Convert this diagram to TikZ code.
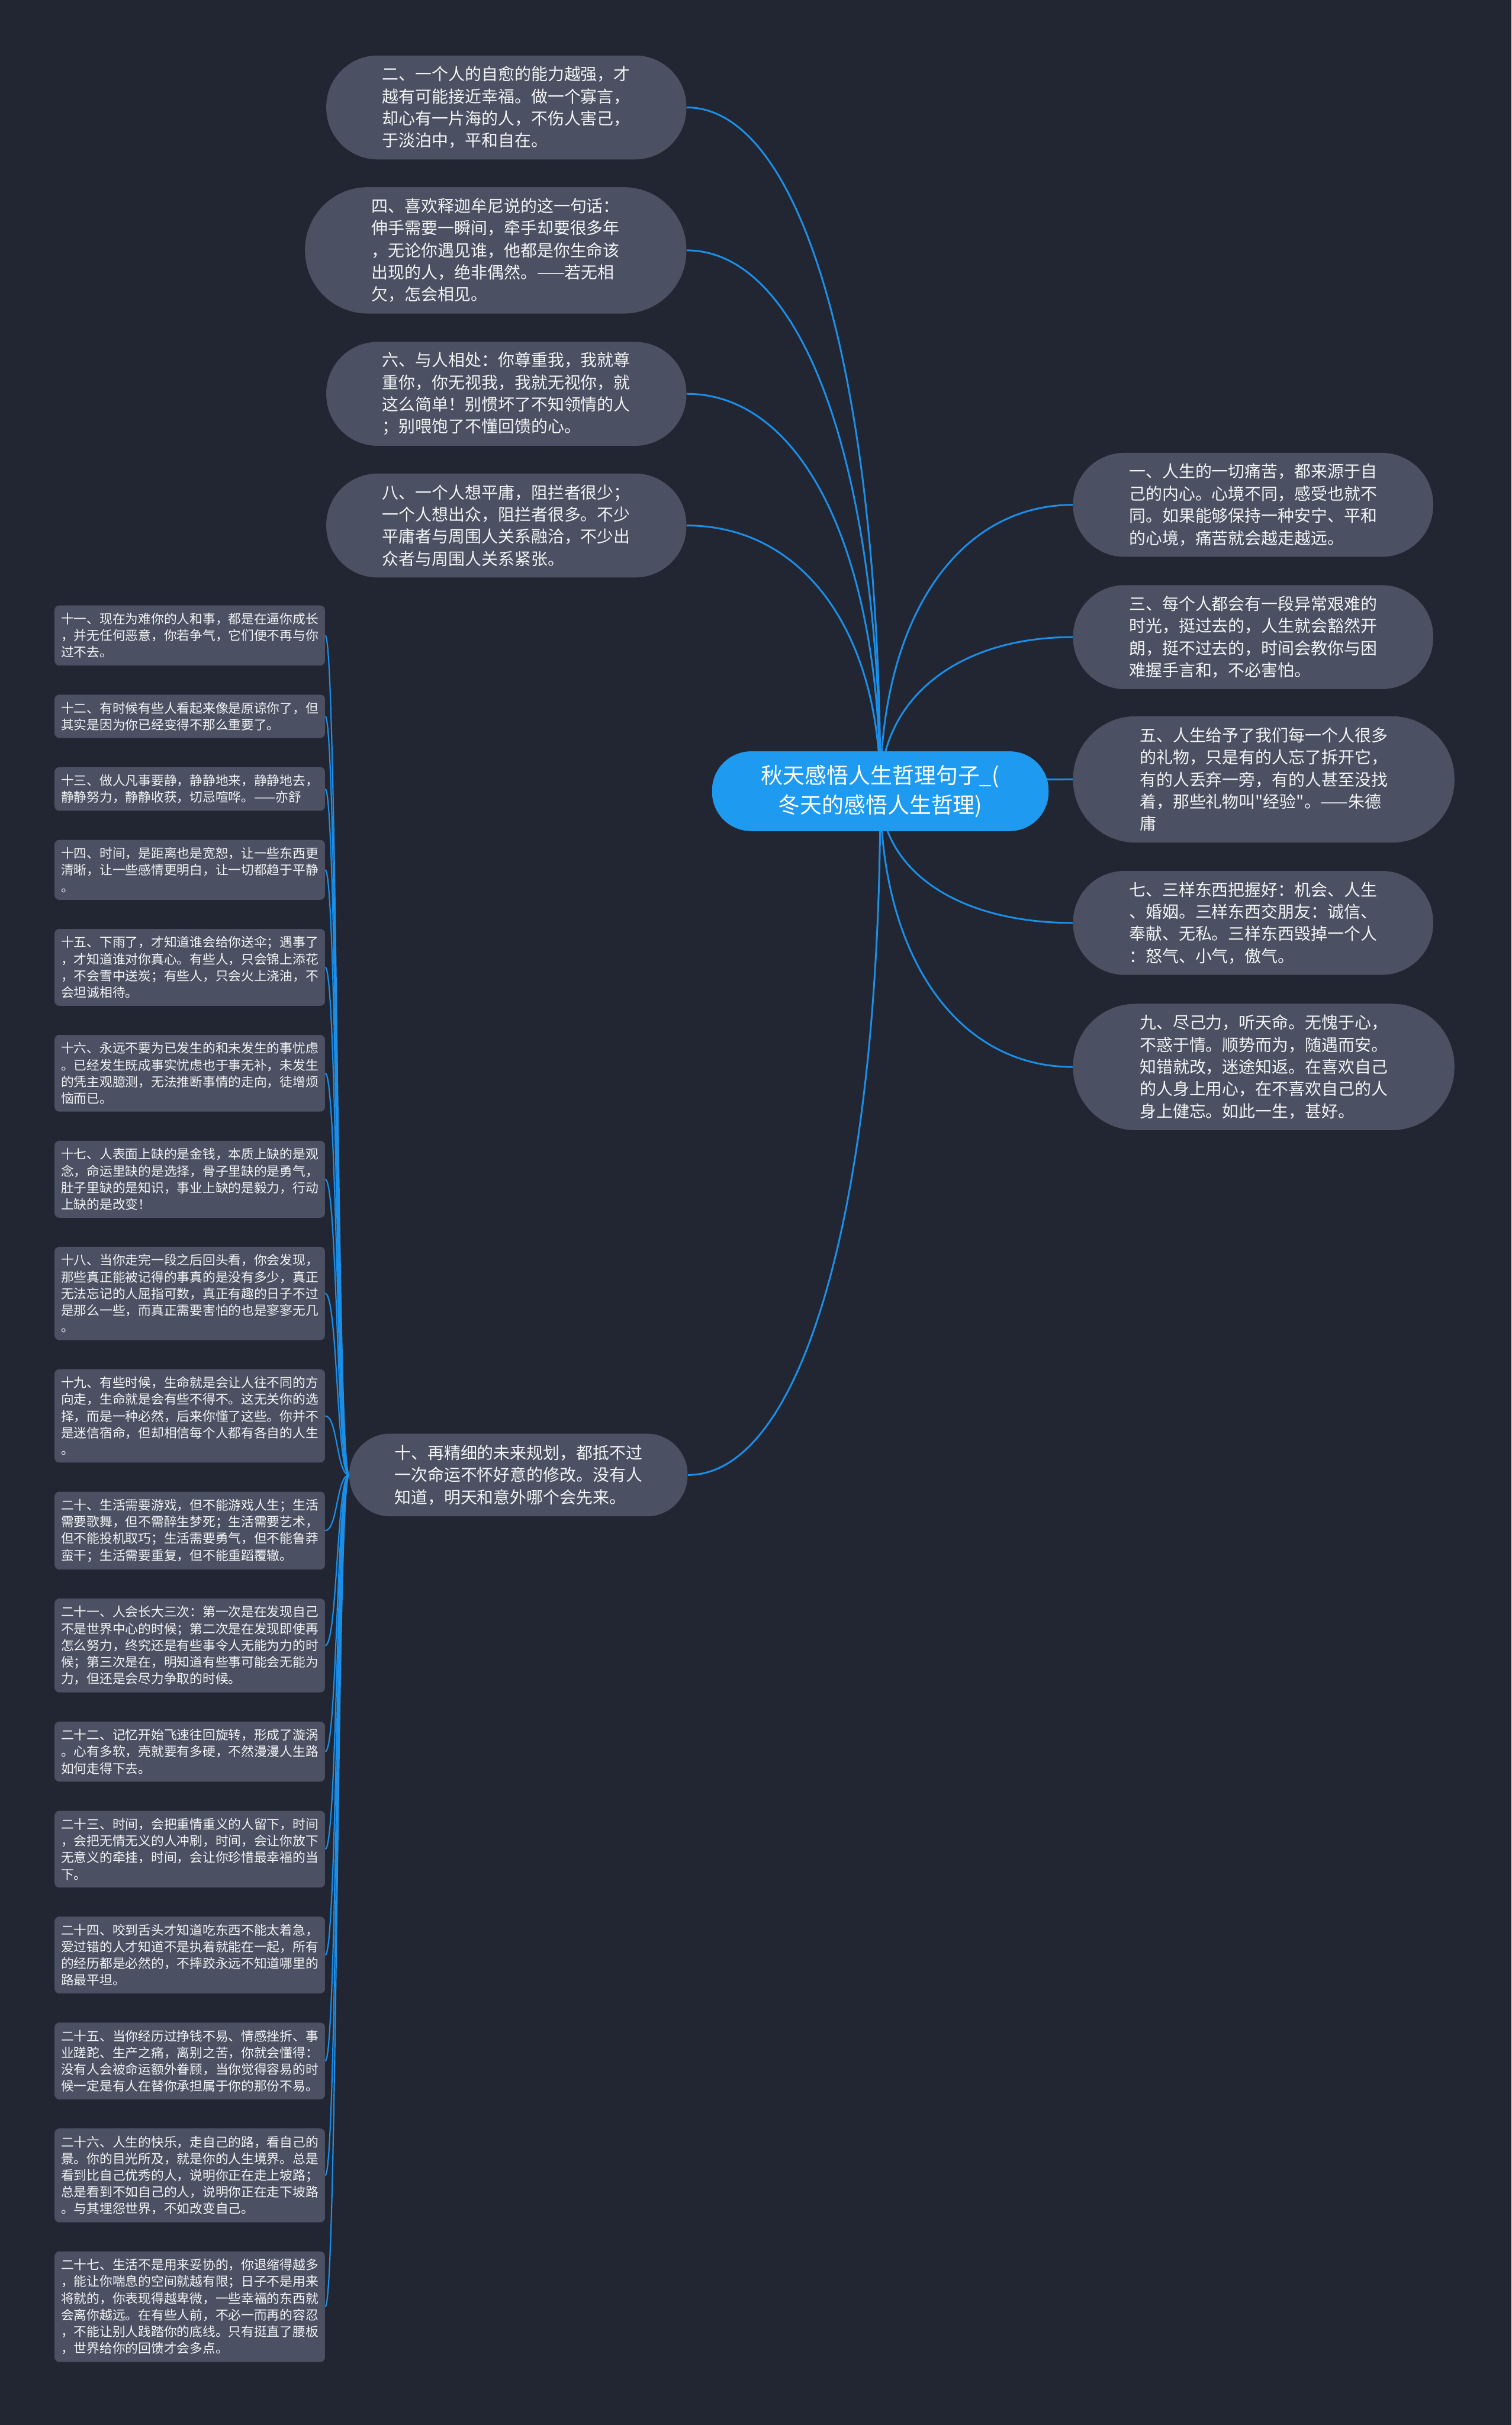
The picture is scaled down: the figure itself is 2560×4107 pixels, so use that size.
\documentclass[tikz,border=0pt]{standalone}
\usepackage{fontspec}
\usepackage{xcolor}
\usepackage{tikz}
\usetikzlibrary{positioning,calc}
\newfontfamily\cjk{Noto Sans CJK SC}

\definecolor{canvas}{HTML}{222632}
\definecolor{leafgrey}{HTML}{4B5162}
\definecolor{titleblue}{HTML}{1E9AF0}
\definecolor{linkblue}{HTML}{1B8EE8}
\definecolor{leaftext}{HTML}{F2F3F5}

\pgfdeclarelayer{canvaslayer}
\pgfdeclarelayer{linklayer}
\pgfsetlayers{canvaslayer,linklayer,main}

\begin{document}
\begin{tikzpicture}[
  x=0.5pt, y=-0.5pt,
  node distance=24.25pt,
  title/.style={rectangle, fill=titleblue, text=white, font=\cjk\fontsize{18.5pt}{25pt}\selectfont, align=center, minimum width=285pt, minimum height=67.5pt, rounded corners=33pt},
  saying/.style={rectangle, fill=leafgrey, text=leaftext, font=\cjk\fontsize{14pt}{18.75pt}\selectfont, align=left, inner xsep=0pt, inner ysep=0pt, minimum width=305pt, minimum height=88pt, rounded corners=43.5pt},
  tallsaying/.style={saying, minimum width=323pt, minimum height=107pt, rounded corners=53pt},
  shortsaying/.style={saying, minimum width=286.5pt, minimum height=70pt, rounded corners=34.5pt},
  note/.style={rectangle, fill=leafgrey, text=leaftext, font=\cjk\fontsize{10.9pt}{14.15pt}\selectfont, align=left, inner xsep=5.5pt, inner ysep=6.25pt, minimum width=229pt, rounded corners=4pt},
  link/.style={draw=linkblue, line width=1.5pt, to path={.. controls ($(\tikztostart)!0.6!(\tikztostart|-\tikztotarget)$) and ($(\tikztotarget)!0.6!(\tikztotarget-|\tikztostart)$) .. (\tikztotarget)}},
  twig/.style={draw=linkblue, line width=1.1pt, to path={.. controls +(-21,0) and +(21,0) .. (\tikztotarget)}}
]
% Canvas
\path[use as bounding box] (0,0) rectangle (2560,4107);
\begin{pgfonlayer}{canvaslayer}
\fill[canvas] (0,0) rectangle (2560,4107);
\end{pgfonlayer}

% Root title
\node[title] (title) at (1491,1340) {秋天感悟人生哲理句子\_(\\冬天的感悟人生哲理)};

% Left column, upper part
\node[saying, anchor=east] (s2) at (1163,182) {二、一个人的自愈的能力越强，才\\越有可能接近幸福。做一个寡言，\\却心有一片海的人，不伤人害己，\\于淡泊中，平和自在。};
\node[tallsaying, anchor=east] (s4) at (1163,424) {四、喜欢释迦牟尼说的这一句话：\\伸手需要一瞬间，牵手却要很多年\\，无论你遇见谁，他都是你生命该\\出现的人，绝非偶然。——若无相\\欠，怎会相见。};
\node[saying, anchor=east] (s6) at (1163,667) {六、与人相处：你尊重我，我就尊\\重你，你无视我，我就无视你，就\\这么简单！别惯坏了不知领情的人\\；别喂饱了不懂回馈的心。};
\node[saying, anchor=east] (s8) at (1163,890) {八、一个人想平庸，阻拦者很少；\\一个人想出众，阻拦者很多。不少\\平庸者与周围人关系融洽，不少出\\众者与周围人关系紧张。};

% Right column
\node[saying, anchor=west] (s1) at (1817,855) {一、人生的一切痛苦，都来源于自\\己的内心。心境不同，感受也就不\\同。如果能够保持一种安宁、平和\\的心境，痛苦就会越走越远。};
\node[saying, anchor=west] (s3) at (1817,1079) {三、每个人都会有一段异常艰难的\\时光，挺过去的，人生就会豁然开\\朗，挺不过去的，时间会教你与困\\难握手言和，不必害怕。};
\node[tallsaying, anchor=west] (s5) at (1817,1320) {五、人生给予了我们每一个人很多\\的礼物，只是有的人忘了拆开它，\\有的人丢弃一旁，有的人甚至没找\\着，那些礼物叫"经验"。——朱德\\庸};
\node[saying, anchor=west] (s7) at (1817,1563) {七、三样东西把握好：机会、人生\\、婚姻。三样东西交朋友：诚信、\\奉献、无私。三样东西毁掉一个人\\：怒气、小气，傲气。};
\node[tallsaying, anchor=west] (s9) at (1817,1807) {九、尽己力，听天命。无愧于心，\\不惑于情。顺势而为，随遇而安。\\知错就改，迷途知返。在喜欢自己\\的人身上用心，在不喜欢自己的人\\身上健忘。如此一生，甚好。};

% Lower branch
\node[shortsaying, anchor=east] (s10) at (1165,2498) {十、再精细的未来规划，都抵不过\\一次命运不怀好意的修改。没有人\\知道，明天和意外哪个会先来。};

% Notes hanging off s10
\node[note, anchor=north west] (s11) at (92,1025) {十一、现在为难你的人和事，都是在逼你成长\\，并无任何恶意，你若争气，它们便不再与你\\过不去。};
\node[note, below=of s11] (s12) {十二、有时候有些人看起来像是原谅你了，但\\其实是因为你已经变得不那么重要了。};
\node[note, below=of s12] (s13) {十三、做人凡事要静，静静地来，静静地去，\\静静努力，静静收获，切忌喧哗。——亦舒};
\node[note, below=of s13] (s14) {十四、时间，是距离也是宽恕，让一些东西更\\清晰，让一些感情更明白，让一切都趋于平静\\。};
\node[note, below=of s14] (s15) {十五、下雨了，才知道谁会给你送伞；遇事了\\，才知道谁对你真心。有些人，只会锦上添花\\，不会雪中送炭；有些人，只会火上浇油，不\\会坦诚相待。};
\node[note, below=of s15] (s16) {十六、永远不要为已发生的和未发生的事忧虑\\。已经发生既成事实忧虑也于事无补，未发生\\的凭主观臆测，无法推断事情的走向，徒增烦\\恼而已。};
\node[note, below=of s16] (s17) {十七、人表面上缺的是金钱，本质上缺的是观\\念，命运里缺的是选择，骨子里缺的是勇气，\\肚子里缺的是知识，事业上缺的是毅力，行动\\上缺的是改变！};
\node[note, below=of s17] (s18) {十八、当你走完一段之后回头看，你会发现，\\那些真正能被记得的事真的是没有多少，真正\\无法忘记的人屈指可数，真正有趣的日子不过\\是那么一些，而真正需要害怕的也是寥寥无几\\。};
\node[note, below=of s18] (s19) {十九、有些时候，生命就是会让人往不同的方\\向走，生命就是会有些不得不。这无关你的选\\择，而是一种必然，后来你懂了这些。你并不\\是迷信宿命，但却相信每个人都有各自的人生\\。};
\node[note, below=of s19] (s20) {二十、生活需要游戏，但不能游戏人生；生活\\需要歌舞，但不需醉生梦死；生活需要艺术，\\但不能投机取巧；生活需要勇气，但不能鲁莽\\蛮干；生活需要重复，但不能重蹈覆辙。};
\node[note, below=of s20] (s21) {二十一、人会长大三次：第一次是在发现自己\\不是世界中心的时候；第二次是在发现即使再\\怎么努力，终究还是有些事令人无能为力的时\\候；第三次是在，明知道有些事可能会无能为\\力，但还是会尽力争取的时候。};
\node[note, below=of s21] (s22) {二十二、记忆开始飞速往回旋转，形成了漩涡\\。心有多软，壳就要有多硬，不然漫漫人生路\\如何走得下去。};
\node[note, below=of s22] (s23) {二十三、时间，会把重情重义的人留下，时间\\，会把无情无义的人冲刷，时间，会让你放下\\无意义的牵挂，时间，会让你珍惜最幸福的当\\下。};
\node[note, below=of s23] (s24) {二十四、咬到舌头才知道吃东西不能太着急，\\爱过错的人才知道不是执着就能在一起，所有\\的经历都是必然的，不摔跤永远不知道哪里的\\路最平坦。};
\node[note, below=of s24] (s25) {二十五、当你经历过挣钱不易、情感挫折、事\\业蹉跎、生产之痛，离别之苦，你就会懂得：\\没有人会被命运额外眷顾，当你觉得容易的时\\候一定是有人在替你承担属于你的那份不易。};
\node[note, below=of s25] (s26) {二十六、人生的快乐，走自己的路，看自己的\\景。你的目光所及，就是你的人生境界。总是\\看到比自己优秀的人，说明你正在走上坡路；\\总是看到不如自己的人，说明你正在走下坡路\\。与其埋怨世界，不如改变自己。};
\node[note, below=of s26] (s27) {二十七、生活不是用来妥协的，你退缩得越多\\，能让你喘息的空间就越有限；日子不是用来\\将就的，你表现得越卑微，一些幸福的东西就\\会离你越远。在有些人前，不必一而再的容忍\\，不能让别人践踏你的底线。只有挺直了腰板\\，世界给你的回馈才会多点。};

\begin{pgfonlayer}{linklayer}
% Links from the title
\draw[link] (title.center) to (s2.east);
\draw[link] (title.center) to (s4.east);
\draw[link] (title.center) to (s6.east);
\draw[link] (title.center) to (s8.east);
\draw[link] (title.center) to (s1.west);
\draw[link] (title.center) to (s3.west);
\draw[link] (title.center) to (s5.west);
\draw[link] (title.center) to (s7.west);
\draw[link] (title.center) to (s9.west);
\draw[link] (title.center) to (s10.east);
% Links from s10 to its notes
\draw[twig] (s10.west) to (s11.east);
\draw[twig] (s10.west) to (s12.east);
\draw[twig] (s10.west) to (s13.east);
\draw[twig] (s10.west) to (s14.east);
\draw[twig] (s10.west) to (s15.east);
\draw[twig] (s10.west) to (s16.east);
\draw[twig] (s10.west) to (s17.east);
\draw[twig] (s10.west) to (s18.east);
\draw[twig] (s10.west) to (s19.east);
\draw[twig] (s10.west) to (s20.east);
\draw[twig] (s10.west) to (s21.east);
\draw[twig] (s10.west) to (s22.east);
\draw[twig] (s10.west) to (s23.east);
\draw[twig] (s10.west) to (s24.east);
\draw[twig] (s10.west) to (s25.east);
\draw[twig] (s10.west) to (s26.east);
\draw[twig] (s10.west) to (s27.east);
\end{pgfonlayer}
\end{tikzpicture}
\end{document}
